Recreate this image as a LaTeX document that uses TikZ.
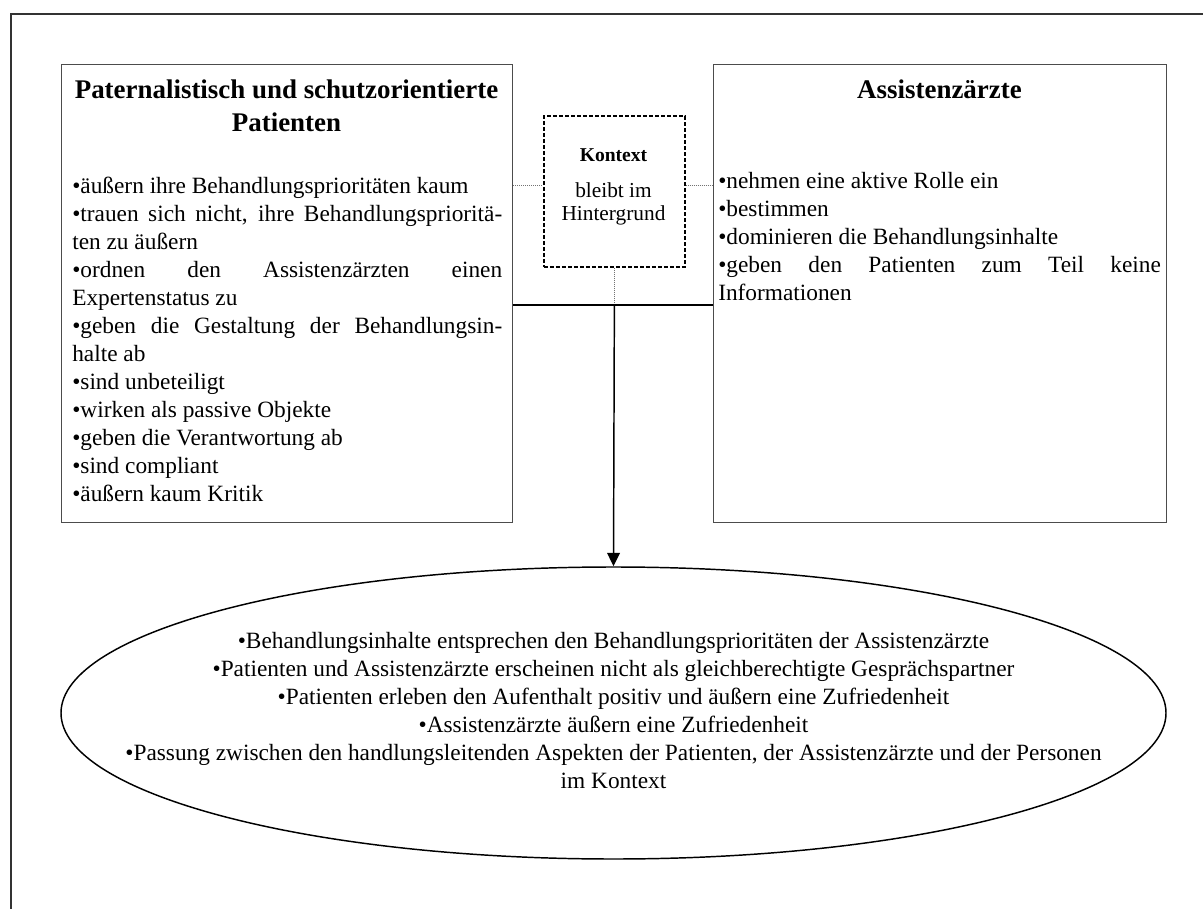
\documentclass[tikz,border=0pt]{standalone}
\usepackage{fontspec}
\setmainfont{Liberation Serif}
\usetikzlibrary{arrows.meta,shapes.geometric}
% one line of a justified block: stretched to full width, or set flush left
\newcommand\jline[1]{\makebox[\linewidth][s]{#1}}
\newcommand\lline[1]{\makebox[\linewidth][l]{#1}}
\begin{document}
\begin{tikzpicture}[x=0.75pt,y=-0.75pt,
  frame/.style={draw=black!80,line width=1pt},
  groupbox/.style={draw=black!70,line width=1.1pt,rectangle,inner sep=0pt,anchor=north west},
  ctxbox/.style={draw=black,line width=1.3pt,dash pattern=on 3pt off 1.5pt,rectangle,inner sep=0pt,anchor=north west},
  result/.style={draw=black,line width=1.1pt,ellipse,inner sep=0pt},
  title/.style={inner sep=0pt,anchor=base,font=\fontsize{20.2pt}{24.75pt}\selectfont\bfseries},
  body/.style={inner sep=0pt,anchor=base west,font=\fontsize{17.5pt}{21pt}\selectfont},
  link/.style={draw=black,line width=1.1pt},
  faint/.style={draw=black!55,line width=0.6pt,dash pattern=on 0.6pt off 0.9pt},
]
\useasboundingbox (0,0) rectangle (1203,909);
\clip (0,0) rectangle (1203,909);

% page frame
\draw[frame] (11,14) rectangle (1240,950);

% the two actor boxes, the context box and the outcome ellipse
\node[groupbox,minimum width=338.25pt,minimum height=343.5pt] (pat) at (61,64) {};
\node[groupbox,minimum width=339.75pt,minimum height=343.5pt] (arzt) at (713,64) {};
\node[ctxbox,minimum width=105.75pt,minimum height=113.25pt] (ktx) at (543,115) {};
\node[result,minimum width=828.75pt,minimum height=219pt] (res) at (613.5,713) {};

% titles
\node[title] (patT) at (286.5,99)
  {\parbox[t]{335pt}{\centering Paternalistisch und schutzorientierte\\Patienten}};
\node[title] (arztT) at (939.5,99) {Assistenzärzte};

% patient characteristics
\node[body] (patB) at (72,194) {\parbox[t]{322.5pt}{%
  \lline{•äußern ihre Behandlungsprioritäten kaum}\\
  \jline{•trauen sich nicht, ihre Behandlungsprioritä-}\\
  \lline{ten zu äußern}\\
  \jline{•ordnen den Assistenzärzten einen}\\
  \lline{Expertenstatus zu}\\
  \jline{•geben die Gestaltung der Behandlungsin-}\\
  \lline{halte ab}\\
  \lline{•sind unbeteiligt}\\
  \lline{•wirken als passive Objekte}\\
  \lline{•geben die Verantwortung ab}\\
  \lline{•sind compliant}\\
  \lline{•äußern kaum Kritik}}};

% resident characteristics
\node[body] (arztB) at (718,189) {\parbox[t]{332pt}{%
  \lline{•nehmen eine aktive Rolle ein}\\
  \lline{•bestimmen}\\
  \lline{•dominieren die Behandlungsinhalte}\\
  \jline{•geben den Patienten zum Teil keine}\\
  \lline{Informationen}}};

% context
\node[inner sep=0pt,anchor=base,font=\fontsize{14.7pt}{17pt}\selectfont\bfseries] (ktxT) at (613.5,162) {Kontext};
\node[inner sep=0pt,anchor=base,font=\fontsize{16pt}{17.25pt}\selectfont] (ktxB) at (613.5,198)
  {\parbox[t]{100pt}{\centering bleibt im\\Hintergrund}};

% outcome
\node[inner sep=0pt,anchor=base,font=\fontsize{17.5pt}{21pt}\selectfont] (resT) at (613.5,648)
  {\parbox[t]{830pt}{\centering
  •Behandlungsinhalte entsprechen den Behandlungsprioritäten der Assistenzärzte\\
  •Patienten und Assistenzärzte erscheinen nicht als gleichberechtigte Gesprächspartner\\
  •Patienten erleben den Aufenthalt positiv und äußern eine Zufriedenheit\\
  •Assistenzärzte äußern eine Zufriedenheit\\
  •Passung zwischen den handlungsleitenden Aspekten der Patienten, der Assistenzärzte und der Personen\\
  im Kontext}};

% connectors
\coordinate (lvlA) at (0,185);
\coordinate (lvlB) at (0,305);
\coordinate (hub) at (ktx.south |- lvlB);
\draw[faint] (pat.east |- lvlA) -- (ktx.west |- lvlA);
\draw[faint] (ktx.east |- lvlA) -- (arzt.west |- lvlA);
\draw[faint] (ktx.south) -- (hub);
\draw[link] (pat.east |- hub) -- (arzt.west |- hub);
\draw[link,-{Triangle[length=10pt,width=9.5pt]}] (hub) -- (res.north);
\end{tikzpicture}
\end{document}
